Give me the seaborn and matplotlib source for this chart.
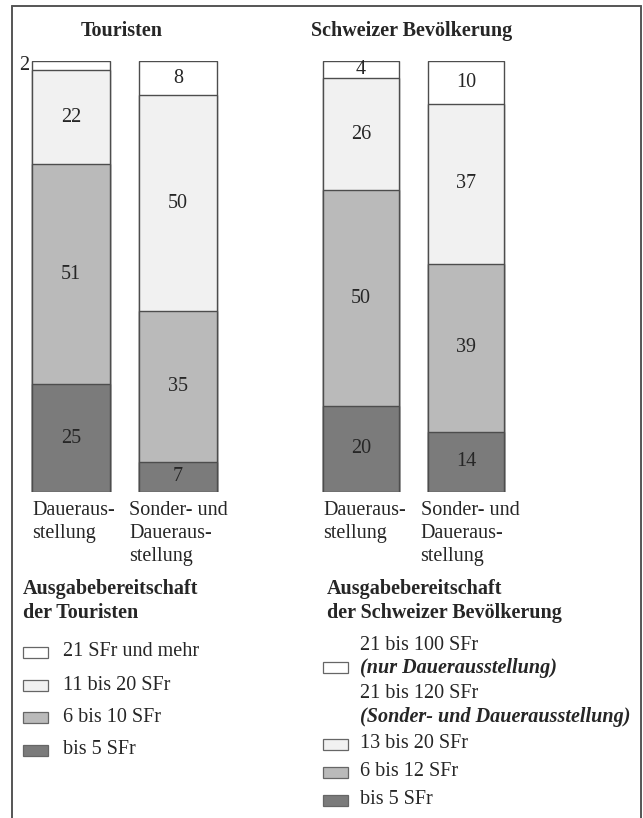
import matplotlib
matplotlib.use("Agg")
import matplotlib.pyplot as plt
from matplotlib.patches import Rectangle
from matplotlib.lines import Line2D
import seaborn as sns
import pandas as pd

# Data (percent, from bottom to top of each bar)
group_titles = ["Touristen", "Schweizer Bevölkerung"]
bar_names = ["Dauer", "Sonder"]
bar_labels = ["Daueraus-\nstellung", "Sonder- und\nDaueraus-\nstellung"]
touristen_dauer = [25, 51, 22, 2]
touristen_sonder = [7, 35, 50, 8]
schweizer_dauer = [20, 50, 26, 4]
schweizer_sonder = [14, 39, 37, 10]

legend_touristen = ["21 SFr und mehr", "11 bis 20 SFr", "6 bis 10 SFr", "bis 5 SFr"]
legend_schweizer = ["13 bis 20 SFr", "6 bis 12 SFr", "bis 5 SFr"]

# colours bottom -> top: bis 5, mittel, hell, weiss
colors = ["#7b7b7b", "#bababa", "#f1f1f1", "#ffffff"]
edge = "#4d4d4d"

sns.set_style("white")
plt.rcParams["font.family"] = ["Liberation Serif", "DejaVu Serif"]

W, H = 643, 818
fig = plt.figure(figsize=(W / 100, H / 100), dpi=100)


def fx(px):
    return px / W


def fy(py):
    return 1 - py / H


def draw_group(ax, dauer, sonder, width, label_offsets):
    df = pd.DataFrame({"art": bar_names * 4,
                       "stufe": [s for s in range(4) for _ in bar_names],
                       "wert": [v for pair in zip(dauer, sonder) for v in pair]})
    df["kum"] = df.groupby("art")["wert"].cumsum()
    # draw from the top level down so the lower segments cover the upper ones
    for level in range(3, -1, -1):
        sub = df[df["stufe"] == level]
        sns.barplot(data=sub, x="art", y="kum", order=bar_names, color=colors[level],
                    saturation=1, width=width, edgecolor=edge, linewidth=1.0,
                    errorbar=None, ax=ax)
    for _, row in df.iterrows():
        i = bar_names.index(row["art"])
        mid = row["kum"] - row["wert"] / 2
        if row["wert"] < 3:
            ax.annotate(str(row["wert"]), xy=(i - width / 2, mid), xytext=(-3, 0),
                        textcoords="offset pixels", ha="right", va="center", fontsize=14.5)
        else:
            ax.text(i, mid, str(row["wert"]), ha="center", va="center", fontsize=14.5)
    for i, lab in enumerate(bar_labels):
        ax.annotate(lab, xy=(i - width / 2, 0), xycoords=("data", "axes fraction"),
                    xytext=(label_offsets[i], -9), textcoords="offset pixels",
                    ha="left", va="top", fontsize=14.5, linespacing=1.3)
    ax.set_xlim(-0.5, 1.5)
    ax.set_ylim(0, 100)
    ax.set_xlabel("")
    ax.set_ylabel("")
    ax.set_xticks([])
    ax.set_yticks([])
    sns.despine(ax=ax, left=True, bottom=True)
    ax.patch.set_alpha(0)


bar_top, bar_bottom = 61, 492
ax1 = fig.add_axes([fx(17.5), fy(bar_bottom), fx(214), (bar_bottom - bar_top) / H])
ax2 = fig.add_axes([fx(308.5), fy(bar_bottom), fx(210), (bar_bottom - bar_top) / H])
draw_group(ax1, touristen_dauer, touristen_sonder, 0.73, [0, -10])
draw_group(ax2, schweizer_dauer, schweizer_sonder, 0.733, [1, -7])

# group titles
fig.text(fx(122), fy(31), group_titles[0], ha="center", va="center",
         fontsize=14.5, fontweight="bold")
fig.text(fx(412), fy(31), group_titles[1], ha="center", va="center",
         fontsize=14.5, fontweight="bold")

# frame
for xs, ys in [([12, 12], [6, 818]), ([12, 641], [6, 6]), ([641, 641], [6, 818])]:
    fig.add_artist(Line2D([fx(x) for x in xs], [fy(y) for y in ys],
                          color="#555555", linewidth=1.4))


def legend_box(x, y, c):
    fig.add_artist(Rectangle((fx(x), fy(y + 5.5)), fx(25), 11 / H, facecolor=c,
                             edgecolor="#666666", linewidth=0.9))


# legend Touristen
fig.text(fx(23), fy(589), "Ausgabebereitschaft", ha="left", va="center",
         fontsize=14.5, fontweight="bold")
fig.text(fx(23), fy(613), "der Touristen", ha="left", va="center",
         fontsize=14.5, fontweight="bold")
for lab, y, c in zip(legend_touristen, [652, 685, 717, 750], colors[::-1]):
    legend_box(23, y, c)
    fig.text(fx(63), fy(y), lab, ha="left", va="center", fontsize=14.5)

# legend Schweizer Bevoelkerung
fig.text(fx(327), fy(589), "Ausgabebereitschaft", ha="left", va="center",
         fontsize=14.5, fontweight="bold")
fig.text(fx(327), fy(613), "der Schweizer Bevölkerung", ha="left", va="center",
         fontsize=14.5, fontweight="bold")
legend_box(323, 667, colors[3])
fig.text(fx(360), fy(646), "21 bis 100 SFr", ha="left", va="center", fontsize=14.5)
fig.text(fx(360), fy(668), "(nur Dauerausstellung)", ha="left", va="center",
         fontsize=14.5, fontweight="bold", fontstyle="italic")
fig.text(fx(360), fy(693), "21 bis 120 SFr", ha="left", va="center", fontsize=14.5)
fig.text(fx(360), fy(717), "(Sonder- und Dauerausstellung)", ha="left", va="center",
         fontsize=14.5, fontweight="bold", fontstyle="italic")
for lab, y, c in zip(legend_schweizer, [744, 772, 800], colors[2::-1]):
    legend_box(323, y, c)
    fig.text(fx(360), fy(y), lab, ha="left", va="center", fontsize=14.5)

fig.savefig("out.png", dpi=100)
